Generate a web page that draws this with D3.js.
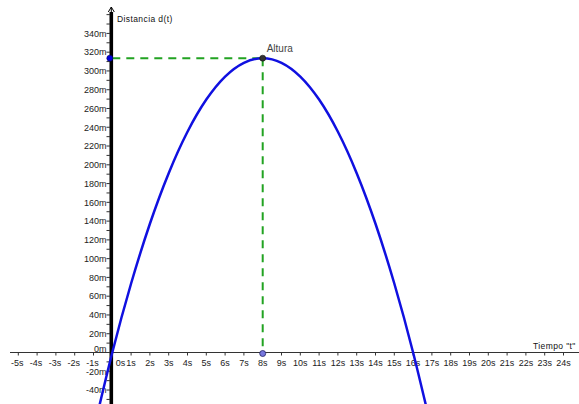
<!DOCTYPE html>
<html><head><meta charset="utf-8">
<script src="https://cdn.jsdelivr.net/npm/d3@7"></script>
<style>html,body{margin:0;padding:0;background:#fff;overflow:hidden}svg{display:block}</style>
</head><body>
<svg id="c" width="579" height="404"></svg>
<script>
// Data
const tiempos    = [-1, 0, 1, 2, 3, 4, 5, 6, 7, 8, 9, 10, 11, 12, 13, 14, 15, 16, 17];
const distancias = [-83.3, 0, 73.5, 137.2, 191.1, 235.2, 269.5, 294, 308.7, 313.6, 308.7, 294, 269.5, 235.2, 191.1, 137.2, 73.5, 0, -83.3];
const xTickValues = [-5,-4,-3,-2,-1,0,1,2,3,4,5,6,7,8,9,10,11,12,13,14,15,16,17,18,19,20,21,22,23,24];
const yTickValues = [-40,-20,0,20,40,60,80,100,120,140,160,180,200,220,240,260,280,300,320,340];
const alturaT = [8];
const alturaD = [313.6];
const xTitle = 'Tiempo "t"';
const yTitle = 'Distancia d(t)';
const puntoLabel = 'Altura';

const W = 579, H = 404;
const svg = d3.select('#c');
const x = d3.scaleLinear().domain([0, 24]).range([112.3, 112.3 + 24 * 18.8]);
const y = d3.scaleLinear().domain([0, 340]).range([352.5, 352.5 - 340 * 0.9385]);
const font = 'Liberation Sans, Arial, sans-serif';

// X axis line
svg.append('line').attr('x1', 10).attr('x2', W).attr('y1', y(0)).attr('y2', y(0))
  .attr('stroke', '#333').attr('stroke-width', 1);
// X ticks
svg.append('g').selectAll('line').data(xTickValues).join('line')
  .attr('x1', d => x(d)).attr('x2', d => x(d)).attr('y1', y(0)).attr('y2', y(0) + 3)
  .attr('stroke', '#333').attr('stroke-width', 1);
// X labels
svg.append('g').selectAll('text').data(xTickValues).join('text')
  .attr('x', d => d === 0 ? x(0) + 8.3 : x(d) + (d < 0 ? -1 : 0))
  .attr('y', y(0) + 13)
  .attr('text-anchor', 'middle')
  .attr('font-family', font).attr('font-size', 9).attr('fill', '#222')
  .text(d => d + 's');

// Y axis thick bar
svg.append('line').attr('x1', 111.3).attr('x2', 111.3).attr('y1', 12).attr('y2', H)
  .attr('stroke', '#000').attr('stroke-width', 3.6);
// Arrow at top
svg.append('path').attr('d', `M108.3,12 L111.3,7 L114.3,12 M111.3,7 L111.3,14`)
  .attr('fill', 'none').attr('stroke', '#000').attr('stroke-width', 1);
// Y ticks (minor every 10)
const yMinor = d3.range(-50, 370, 10);
svg.append('g').selectAll('line').data(yMinor).join('line')
  .attr('x1', 106.5).attr('x2', 110).attr('y1', d => y(d)).attr('y2', d => y(d))
  .attr('stroke', '#333').attr('stroke-width', 1);
// Y labels
svg.append('g').selectAll('text').data(yTickValues).join('text')
  .attr('x', 106.5)
  .attr('y', d => d === 0 ? y(0) - 1 : y(d) + 3.3)
  .attr('text-anchor', 'end')
  .attr('font-family', font).attr('font-size', 9).attr('fill', '#222')
  .text(d => d + 'm');

// Axis titles
svg.append('text').attr('x', 117).attr('y', 22).attr('font-family', font)
  .attr('font-size', 8.5).attr('letter-spacing', 0.4).attr('fill', '#111').text(yTitle);
svg.append('text').attr('x', 533).attr('y', 349).attr('font-family', font)
  .attr('font-size', 8.5).attr('letter-spacing', 0.4).attr('fill', '#111').text(xTitle);

// Clip for curve
svg.append('clipPath').attr('id', 'clip').append('rect')
  .attr('x', 0).attr('y', 0).attr('width', W).attr('height', H);

// Dashed guides
const pts = alturaT.map((t, i) => ({t, d: alturaD[i]}));
svg.append('g').selectAll('line.h').data(pts).join('line')
  .attr('x1', x(0)).attr('x2', d => x(d.t)).attr('y1', d => y(d.d)).attr('y2', d => y(d.d))
  .attr('stroke', '#22a322').attr('stroke-width', 2).attr('stroke-dasharray', '8,6');
svg.append('g').selectAll('line.v').data(pts).join('line')
  .attr('x1', d => x(d.t)).attr('x2', d => x(d.t)).attr('y1', d => y(d.d)).attr('y2', y(0))
  .attr('stroke', '#22a322').attr('stroke-width', 2).attr('stroke-dasharray', '8,6');

// Curve
const line = d3.line().x((d, i) => x(tiempos[i])).y(d => y(d)).curve(d3.curveNatural);
svg.append('path').datum(distancias).attr('d', line).attr('clip-path', 'url(#clip)')
  .attr('fill', 'none').attr('stroke', '#1010e0').attr('stroke-width', 2.5);

// Points
pts.forEach(p => {
  svg.append('circle').attr('cx', x(0) - 2.5).attr('cy', y(p.d)).attr('r', 3)
    .attr('fill', '#0000dd').attr('stroke', '#000066').attr('stroke-width', 0.6);
  svg.append('circle').attr('cx', x(p.t)).attr('cy', y(0) + 1).attr('r', 3)
    .attr('fill', '#7777dd').attr('stroke', '#222266').attr('stroke-width', 0.8);
  svg.append('circle').attr('cx', x(p.t)).attr('cy', y(p.d)).attr('r', 3)
    .attr('fill', '#333').attr('stroke', '#111').attr('stroke-width', 0.6);
  svg.append('text').attr('x', x(p.t) + 4).attr('y', y(p.d) - 6)
    .attr('font-family', font).attr('font-size', 10).attr('fill', '#444').text(puntoLabel);
});
</script>
</body></html>
